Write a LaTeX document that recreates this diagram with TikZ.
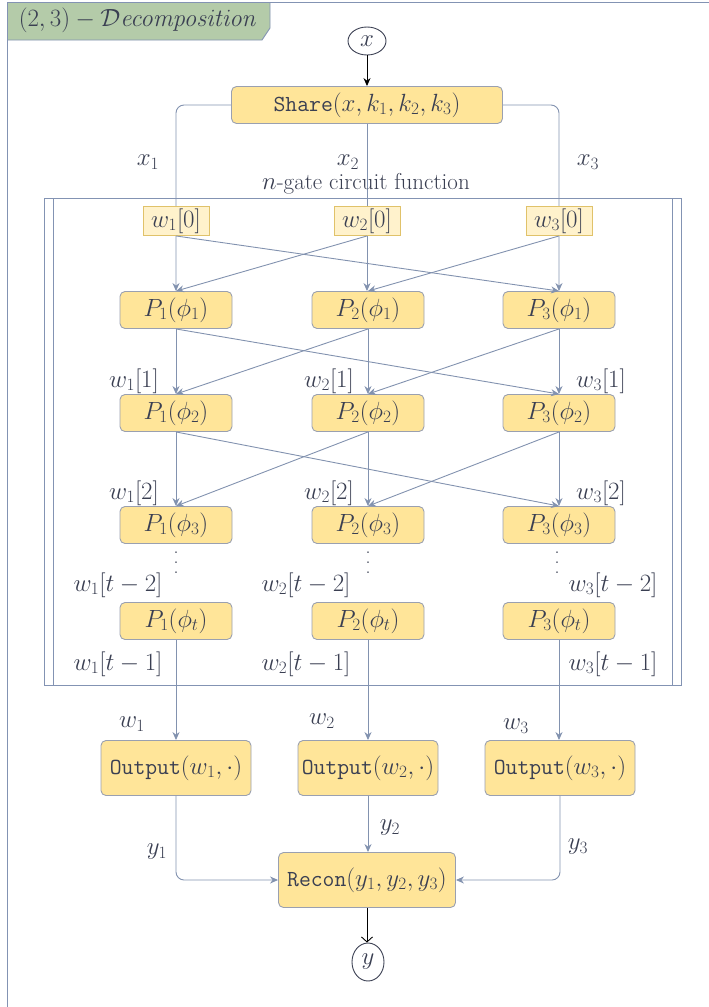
\documentclass[tikz,border=0pt]{standalone}
\usepackage{amsmath}
\usetikzlibrary{arrows.meta,shapes.geometric,backgrounds}
\definecolor{boxfill}{HTML}{FFE599}
\definecolor{boxline}{HTML}{9AA0B0}
\definecolor{wfill}{HTML}{FFF2CC}
\definecolor{wline}{HTML}{E0C26A}
\definecolor{conncol}{HTML}{8292AF}
\definecolor{txtcol}{HTML}{3A3F52}
\definecolor{framecol}{HTML}{8393B3}
\definecolor{tabfill}{HTML}{B4CBA9}
\newcommand\myvdots{\vbox{\baselineskip=10pt\lineskiplimit=0pt\hbox{.}\hbox{.}\hbox{.}}}
\tikzset{
  pbox/.style={draw=boxline, fill=boxfill, rounded corners=5, line width=0.9,
    minimum width=112, minimum height=37, inner sep=0, text=txtcol},
  wbox/.style={draw=wline, fill=wfill, line width=0.9, minimum width=66,
    minimum height=29, inner sep=0, text=txtcol},
  conn/.style={draw=conncol, line width=0.9, -{Stealth[length=8,width=7]}},
  lbl/.style={text=txtcol, inner sep=0},
  dots/.style={text=txtcol, inner sep=0, font=\fontsize{20}{22}\selectfont},
  endpt/.style={ellipse, draw=txtcol, line width=0.9, inner sep=0, text=txtcol},
}
\begin{document}
\begin{tikzpicture}[x=1pt,y=-1pt,font=\fontsize{23}{27}\selectfont]
\useasboundingbox (0,0) rectangle (709,1007);
% outer frame
\fill[tabfill] (8,2) -- (270,2) -- (270,28) -- (262,40) -- (8,40) -- cycle;
\draw[framecol, line width=0.9] (270,2) -- (270,28) -- (262,40) -- (8,40);
\draw[framecol, line width=1.6] (709,2.5) -- (7.5,2.5) -- (7.5,1007);
\node[lbl] (title) at (138,20) {$(2,3)-\mathcal{D}\mathit{ecomposition}$};

% circuit frame
\node[draw=framecol, line width=0.9, minimum width=637, minimum height=487, inner sep=0] (circ) at (362.5,441.5) {};
\draw[framecol, line width=0.9] (53,198) -- (53,685);
\draw[framecol, line width=0.9] (672,198) -- (672,685);
\node[lbl] (ctitle) at (366,184) {$n$-gate circuit function};

% nodes
\node[endpt, minimum width=38, minimum height=28] (x) at (367,41) {$x$};
\node[pbox, minimum width=271] (share) at (367,105) {\texttt{Share}$(x,k_1,k_2,k_3)$};

\node[wbox] (w10) at (176,221) {$w_1[0]$};
\node[wbox] (w20) at (367,221) {$w_2[0]$};
\node[wbox] (w30) at (559,221) {$w_3[0]$};

\foreach \r/\yy/\ph in {1/310/\phi_1, 2/413/\phi_2, 3/525/\phi_3, t/621/\phi_t}{
  \node[pbox] (P1\r) at (176,\yy) {$P_1(\ph)$};
  \node[pbox] (P2\r) at (368,\yy) {$P_2(\ph)$};
  \node[pbox] (P3\r) at (559,\yy) {$P_3(\ph)$};
}

\node[pbox, minimum width=150, minimum height=55] (o1) at (176,768) {\texttt{Output}$(w_1,\cdot)$};
\node[pbox, minimum width=140, minimum height=55] (o2) at (368,768) {\texttt{Output}$(w_2,\cdot)$};
\node[pbox, minimum width=150, minimum height=55] (o3) at (560,768) {\texttt{Output}$(w_3,\cdot)$};
\node[pbox, minimum width=177, minimum height=55] (recon) at (367,880) {\texttt{Recon}$(y_1,y_2,y_3)$};
\node[endpt, minimum width=32, minimum height=38] (y) at (368,962) {$y$};

% vdots
\node[dots] (d1) at (176,563) {\myvdots};
\node[dots] (d2) at (368,563) {\myvdots};
\node[dots] (d3) at (557,563) {\myvdots};

% labels
\node[lbl] (lx1) at (148,162) {$x_1$};
\node[lbl] (lx2) at (348,162) {$x_2$};
\node[lbl] (lx3) at (588,162) {$x_3$};
\foreach \k/\yy in {1/381, 2/493}{
  \node[lbl] at (134,\yy) {$w_1[\k]$};
  \node[lbl] at (329,\yy) {$w_2[\k]$};
  \node[lbl] at (601,\yy) {$w_3[\k]$};
}
\node[lbl] (a1) at (118,585) {$w_1[t-2]$};
\node[lbl] (a2) at (306,585) {$w_2[t-2]$};
\node[lbl] (a3) at (613,585) {$w_3[t-2]$};
\node[lbl] (b1) at (118,664) {$w_1[t-1]$};
\node[lbl] (b2) at (306,664) {$w_2[t-1]$};
\node[lbl] (b3) at (613,664) {$w_3[t-1]$};
\node[lbl] (lw1) at (132,724) {$w_1$};
\node[lbl] (lw2) at (322,721) {$w_2$};
\node[lbl] (lw3) at (516,726) {$w_3$};
\node[lbl] (ly1) at (157,852) {$y_1$};
\node[lbl] (ly2) at (390,828) {$y_2$};
\node[lbl] (ly3) at (578,847) {$y_3$};

% connectors
\begin{scope}[on background layer]
\draw[conn, rounded corners=8] (share.west) -| (P11.north);
\draw[conn] (share.south) -- (P21.north -| share.south);
\draw[conn, rounded corners=8] (share.east) -| (P31.north);
\end{scope}
\draw[conn] (w10.south) -- (P31.north);
\draw[conn] (w20.south) -- (P11.north);
\draw[conn] (w30.south) -- (P21.north);
\foreach \a/\b in {1/2, 2/3}{
  \draw[conn] (P1\a.south) -- (P1\b.north);
  \draw[conn] (P1\a.south) -- (P3\b.north);
  \draw[conn] (P2\a.south) -- (P2\b.north);
  \draw[conn] (P2\a.south) -- (P1\b.north);
  \draw[conn] (P3\a.south) -- (P3\b.north);
  \draw[conn] (P3\a.south) -- (P2\b.north);
}
\draw[conn] (P1t.south) -- (o1.north);
\draw[conn] (P2t.south) -- (o2.north);
\draw[conn] (P3t.south) -- (o3.north -| P3t.south);
\draw[conn, rounded corners=8] (o1.south) |- (recon.west);
\draw[conn] (o2.south) -- (recon.north -| o2.south);
\draw[conn, rounded corners=8] (o3.south) |- (recon.east);
\draw[black, line width=0.9, -{Stealth[length=8,width=7]}] (x.south) -- (share.north);
\draw[black, line width=0.9, -{Straight Barb[length=5,width=11]}] (recon.south) -- (y.north -| recon.south);
\end{tikzpicture}
\end{document}
